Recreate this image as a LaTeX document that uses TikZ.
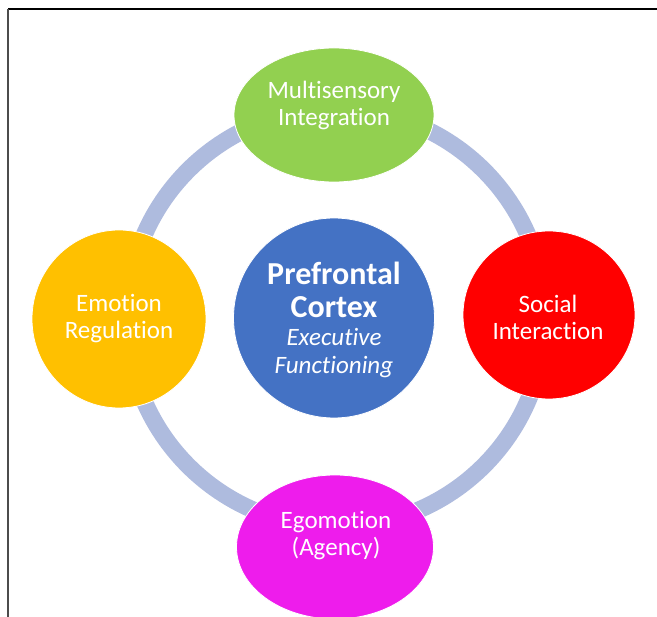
\documentclass[tikz,border=0pt]{standalone}
\usepackage{fontspec}
\setmainfont{Carlito}[Ligatures=NoCommon]
\usetikzlibrary{shapes.geometric}
\definecolor{ringc}{RGB}{174,187,222}
\definecolor{cgreen}{RGB}{146,208,80}
\definecolor{corange}{RGB}{255,192,0}
\definecolor{cred}{RGB}{255,0,0}
\definecolor{cblue}{RGB}{68,114,196}
\definecolor{cmag}{RGB}{238,28,236}
\tikzset{
  blob/.style={ellipse, draw=white, line width=0.8pt, inner sep=0pt},
  lab/.style={text=white, align=center, inner sep=0pt, font=\fontsize{25}{27}\selectfont}
}
\begin{document}
\begin{tikzpicture}[x=1pt,y=-1pt]
\useasboundingbox (0,0) rectangle (657,617);
\draw[black, line width=1.2pt] (8,9) -- (657,9);
\draw[gray!60!black, line width=1.6pt] (8,9) -- (8,617);
\draw[ringc, line width=17pt] (336,318) circle[radius=209];
\node[blob, fill=cgreen, minimum width=200pt, minimum height=134pt] (ms) at (334,115) {};
\node[blob, fill=corange, minimum width=174pt, minimum height=178pt] (er) at (119,319) {};
\node[blob, fill=cred, minimum width=172pt, minimum height=168pt] (si) at (549,315) {};
\node[blob, fill=cmag, minimum width=197pt, minimum height=144pt] (eg) at (335,547) {};
\node[blob, fill=cblue, minimum width=201pt, minimum height=200pt] (pf) at (334,318) {};
\node[lab] (mst) at (334,105) {Multisensory\\Integration};
\node[lab] (ert) at (119,319) {Emotion\\Regulation};
\node[lab] (sit) at (548,317) {Social\\Interaction};
\node[lab] (egt) at (336,536) {Egomotion\\(Agency)};
\node[lab, font=\fontsize{32}{33}\selectfont\bfseries] (pft) at (334,290) {Prefrontal\\Cortex};
\node[lab, font=\fontsize{25}{28}\selectfont\itshape] (eft) at (334,353) {Executive\\Functioning};
\end{tikzpicture}
\end{document}
